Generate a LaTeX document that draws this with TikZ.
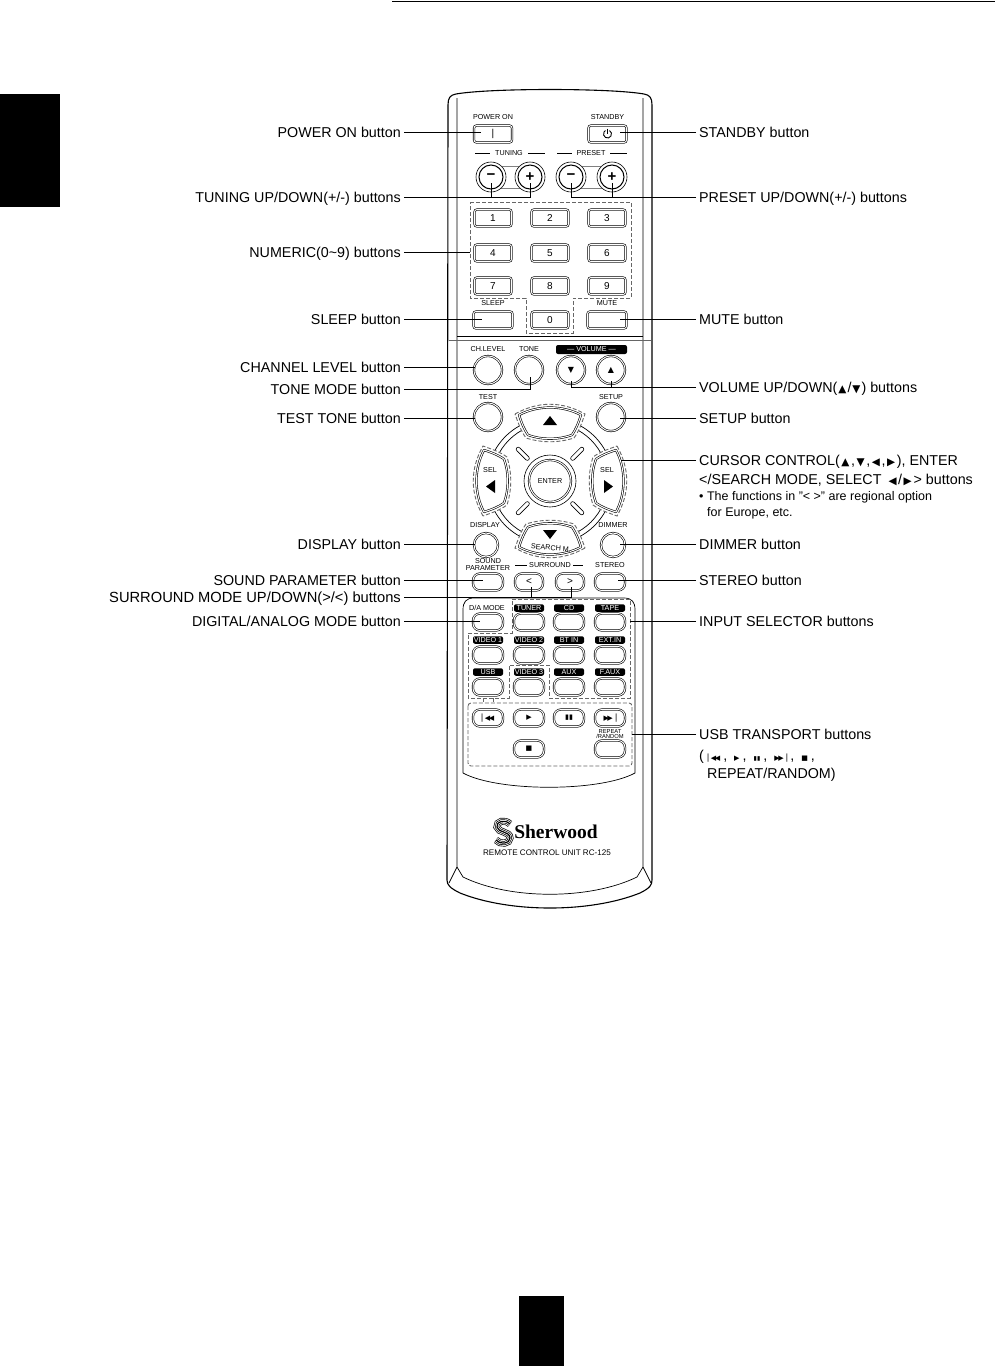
\documentclass[tikz,border=0pt]{standalone}
\usepackage{fontspec}
\setmainfont{Liberation Sans}
\newfontfamily\symfont{DejaVu Sans}
\newfontfamily\logofont{Liberation Serif}

% small glyphs used inside the labels and on the keys
\newcommand{\gup}[1][7.5]{{\symfont\fontsize{#1}{#1}\selectfont ▲}}
\newcommand{\gdn}[1][7.5]{{\symfont\fontsize{#1}{#1}\selectfont ▼}}
\newcommand{\glf}[1][7.5]{{\symfont\fontsize{#1}{#1}\selectfont ◀}}
\newcommand{\grt}[1][7.5]{{\symfont\fontsize{#1}{#1}\selectfont ▶}}
\newcommand{\gprev}[1][6]{{\symfont\fontsize{#1}{#1}\selectfont ▏\kern-.35em◀\kern-.2em◀}}
\newcommand{\gnext}[1][6]{{\symfont\fontsize{#1}{#1}\selectfont ▶\kern-.2em▶\kern-.25em▕}}
\newcommand{\gpause}[1][6]{{\symfont\fontsize{#1}{#1}\selectfont ▮\kern.02em▮}}
\newcommand{\gstop}[1][6]{{\symfont\fontsize{#1}{#1}\selectfont ■}}

% the four-way key, drawn pointing up around (0,0)
\newcommand{\keyshape}{(-31,-66) .. controls (-12,-76) and (12,-76) .. (31,-66) .. controls (28,-57) and (26,-52) .. (22,-46) .. controls (8,-41) and (-8,-41) .. (-22,-46) .. controls (-26,-52) and (-28,-57) .. (-31,-66) -- cycle}
\newcommand{\keyhalo}{(-35,-67) .. controls (-12,-80) and (12,-80) .. (35,-67) .. controls (31,-56) and (29,-50) .. (24,-43) .. controls (8,-38) and (-8,-38) .. (-24,-43) .. controls (-29,-50) and (-31,-56) .. (-35,-67) -- cycle}
\newcommand{\logopath}{(510,824) .. controls (505,819) and (496,821) .. (497,827) .. controls (498,833) and (510,831) .. (510,838) .. controls (510,844) and (500,845) .. (496,840)}

\tikzset{
    lblL/.style={anchor=east,inner sep=0pt,text height=13.6pt,text depth=3pt,font=\fontsize{14.3}{16}\selectfont},
    lblR/.style={anchor=west,inner sep=0pt,text height=13.6pt,text depth=3pt,font=\fontsize{14.3}{16}\selectfont},
    noteR/.style={anchor=west,inner sep=0pt,font=\fontsize{12.5}{13}\selectfont},
    leader/.style={line width=.8pt,shorten <=3pt},
    keytxt/.style={inner sep=0pt,font=\fontsize{7.2}{8}\selectfont},
    tagtxt/.style={keytxt,fill=black,text=white,rounded corners=2pt,minimum width=30pt,minimum height=7.5pt},
    rectkey/.style={draw,double,double distance=1pt,line width=.6pt,rounded corners=2.5pt,minimum width=37pt,minimum height=17pt,inner sep=0pt,font=\fontsize{10}{10}\selectfont},
    pillkey/.style={draw,double,double distance=1pt,line width=.6pt,rounded corners=7pt,minimum width=30pt,minimum height=17pt,inner sep=0pt,font=\fontsize{9}{9}\selectfont},
    roundkey/.style={circle,draw,double,double distance=1pt,line width=.6pt,minimum size=28pt,inner sep=0pt},
    zone/.style={draw=black!60,line width=.9pt,dash pattern=on 4pt off 2pt},
    shell/.style={line width=1.1pt,line join=round}
}

\begin{document}
\begin{tikzpicture}[x=1pt,y=-1pt]
\useasboundingbox (0,0) rectangle (995,1366);

% ===== Page marks =====
\draw[line width=1pt] (392,1) -- (995,1);
\fill (0,94) rectangle (60,207);
\fill (519,1296) rectangle (564,1366);

% ===== Remote shell =====
\draw[shell] (448,105) .. controls (448,98) and (450,95) .. (456,94) .. controls (490,88) and (610,88) .. (644,94) .. controls (650,95) and (652,98) .. (652,105) -- (652,880) .. controls (652,885) and (650,888) .. (640,893) .. controls (590,913) and (510,913) .. (460,893) .. controls (450,888) and (447,885) .. (447,880) -- cycle;
\draw[line width=.7pt] (457,98) -- (457,867) -- (449,883);
\draw[line width=.7pt] (643,98) -- (643,867) -- (651,883);
\draw[line width=.7pt] (457,867) -- (463,877) .. controls (510,900) and (590,900) .. (637,877) -- (643,867);
\draw[line width=.7pt] (457,336) -- (643,336);
\draw[line width=.7pt,black!60] (449,340) -- (651,340);
\draw[line width=.7pt] (463,773) -- (463,610) .. controls (463,602) and (466,598) .. (474,598) -- (624,598) .. controls (632,598) and (635,602) .. (635,610) -- (635,773) .. controls (600,792) and (498,792) .. (463,773);

% ===== Dashed zones =====
\draw[zone] (470,202) -- (631,202) -- (631,298) -- (573,298) -- (573,333) -- (526,333) -- (526,298) -- (470,298) -- cycle;
\draw[zone] (630,599) -- (512,599) -- (512,633) -- (468,633) -- (468,698) -- (509,698) -- (509,665) -- (549,665) -- (549,698) -- (630,698) -- cycle;
\draw[zone,rounded corners=3pt] (468,703) rectangle (632,766);
\draw[zone] (483,698) -- (483,703);
\draw[zone] (493,698) -- (493,703);

% ===== Top row =====
\node[rectkey,minimum width=38pt] (btnPower) at (493,134) {|};
\node[rectkey,minimum width=38pt] (btnStandby) at (607.5,134) {};
\draw[line width=.9pt] (btnStandby.center) ++(-60:4) arc (-60:240:4);
\draw[line width=.9pt] (btnStandby.center) ++(0,-5.5) -- ++(0,5);
\node[keytxt] (capPower) at (493,117) {POWER ON};
\node[keytxt] (capStandby) at (607.5,117) {STANDBY};

% ===== Tuning and preset =====
\draw[black!50,line width=.7pt] (491,166) -- (530,166) (491,188) -- (530,188);
\draw[black!50,line width=.7pt] (571,166) -- (612,166) (571,188) -- (612,188);
\foreach \nm/\x/\sgn in {TuneMinus/491/−,TunePlus/530/+,PresetMinus/571/−,PresetPlus/612/+} {
    \node[circle,draw,line width=.6pt,fill=white,minimum size=30pt,inner sep=0pt] (btn\nm) at (\x,177) {};
    \node[circle,draw,line width=1pt,minimum size=24pt,inner sep=0pt,font=\bfseries\fontsize{15}{15}\selectfont] at (\x,177) {\sgn};
}
\node[keytxt] (capTuning) at (509,153) {TUNING};
\node[keytxt] (capPreset) at (591,153) {PRESET};
\draw[line width=.6pt] (475,153) -- (490,153) (528,153) -- (545,153);
\draw[line width=.6pt] (557,153) -- (572,153) (610,153) -- (627,153);

% ===== Numeric keys =====
\foreach \n/\x/\y in {1/493/218,2/550/218,3/607/218,4/493/253,5/550/253,6/607/253,7/493/286,8/550/286,9/607/286,0/550/320} {
    \node[rectkey] (btnNum\n) at (\x,\y) {\n};
}
\node[rectkey,minimum width=39pt] (btnSleep) at (493,320) {};
\node[rectkey,minimum width=39pt] (btnMute) at (607,320) {};
\node[keytxt] (capSleep) at (493,303) {SLEEP};
\node[keytxt] (capMute) at (607,303) {MUTE};

% ===== Tone and volume =====
\foreach \nm/\x/\y in {Level/488/370,Tone/529/370,VolDown/571/370,VolUp/611/370,Test/488/417,Setup/611/417} {
    \node[roundkey] (btn\nm) at (\x,\y) {};
}
\node[inner sep=0pt] at (btnVolDown) {\gdn[8]};
\node[inner sep=0pt] at (btnVolUp) {\gup[8]};
\node[keytxt] (capLevel) at (488,349) {CH.LEVEL};
\node[keytxt] (capTone) at (529,349) {TONE};
\node[keytxt] (capTest) at (488,397) {TEST};
\node[keytxt] (capSetup) at (611,397) {SETUP};
\node[tagtxt,minimum width=71pt,minimum height=9pt] (capVolume) at (591.5,349.5) {--- VOLUME ---};

% ===== Cursor pad =====
\draw[line width=.7pt] (550,481) circle (63);
\draw[line width=.7pt] (550,481) circle (58);
\foreach \ang in {45,135,225,315} {
    \draw[line width=.6pt,rounded corners=2pt,rotate around={\ang:(550,481)}] (580,479) rectangle (597,483);
}
\node[circle,draw,line width=.6pt,minimum size=52pt,inner sep=0pt] (padRing) at (550,481) {};
\node[circle,draw,double,double distance=1pt,line width=.6pt,minimum size=42pt,inner sep=0pt,font=\fontsize{7.2}{8}\selectfont] (btnEnter) at (550,481) {ENTER};
\foreach \ang in {0,90,180,270} {
    \begin{scope}[shift={(550,481)},rotate=\ang]
        \draw[zone,fill=white] \keyhalo;
        \draw[double,double distance=1pt,line width=.6pt,line join=round,fill=white] \keyshape;
    \end{scope}
}
\fill (550,416) -- (557,425) -- (543,425) -- cycle;
\fill (486,486.5) -- (495,480) -- (495,493) -- cycle;
\fill (613,486.5) -- (604,480) -- (604,493) -- cycle;
\fill (550,539) -- (557,530) -- (543,530) -- cycle;
\node[keytxt] (capSelL) at (490,470) {SEL};
\node[keytxt] (capSelR) at (607,470) {SEL};
\node[keytxt,rotate=-5] (capSearch) at (551,548) {SEARCH M.};

% ===== Display row =====
\node[roundkey,minimum size=24pt] (btnDisplay) at (486,545) {};
\node[roundkey,minimum size=24pt] (btnDimmer) at (613,545) {};
\node[keytxt,fill=white,inner sep=.5pt] (capDisplay) at (485,525) {DISPLAY};
\node[keytxt,fill=white,inner sep=.5pt] (capDimmer) at (613,525) {DIMMER};

% ===== Sound and surround =====
\node[pillkey] (btnSound) at (488,582) {};
\node[pillkey,minimum width=28pt,font=\fontsize{10}{10}\selectfont] (btnSurLess) at (529,582) {<};
\node[pillkey,minimum width=28pt,font=\fontsize{10}{10}\selectfont] (btnSurMore) at (570,582) {>};
\node[pillkey] (btnStereo) at (610,582) {};
\node[keytxt] (capSoundA) at (488,561) {SOUND};
\node[keytxt] (capSoundB) at (488,568) {PARAMETER};
\node[keytxt] (capSurround) at (550,565) {SURROUND};
\node[keytxt] (capStereo) at (610,565) {STEREO};
\draw[line width=.6pt] (515,565) -- (527,565) (573,565) -- (583,565);

% ===== Input keys =====
\node[keytxt] (capDA) at (487,608) {D/A MODE};
\node[pillkey] (btnDA) at (488,622) {};
\foreach \nm/\txt/\x/\ylab/\ykey in {Tuner/TUNER/529/608/622,Cd/CD/569/608/622,Tape/TAPE/610/608/622,VidA/VIDEO 1/488/640/655,VidB/VIDEO 2/529/640/655,Bt/BT IN/569/640/655,Ext/EXT.IN/610/640/655,Usb/USB/488/672/687,VidC/VIDEO 3/529/672/687,Aux/AUX/569/672/687,Faux/F.AUX/610/672/687} {
    \node[tagtxt] (cap\nm) at (\x,\ylab) {\txt};
    \node[pillkey] (btn\nm) at (\x,\ykey) {};
}

% ===== USB transport =====
\node[pillkey] (btnPrev) at (488,718) {\gprev[7]};
\node[pillkey] (btnPlay) at (529,718) {\grt[7]};
\node[pillkey] (btnPause) at (569,718) {\gpause[7]};
\node[pillkey] (btnNext) at (610,718) {\gnext[7]};
\node[pillkey] (btnStop) at (529,749) {\gstop[7]};
\node[pillkey] (btnRepeat) at (610,749) {};
\node[keytxt,font=\fontsize{5.8}{6}\selectfont] (capRepeatA) at (610,731) {REPEAT};
\node[keytxt,font=\fontsize{5.8}{6}\selectfont] (capRepeatB) at (610,736) {/RANDOM};

% ===== Brand =====
\draw[line width=7pt] \logopath;
\draw[line width=5.6pt,white] \logopath;
\draw[line width=4pt] \logopath;
\draw[line width=2.6pt,white] \logopath;
\draw[line width=1.2pt] \logopath;
\node[inner sep=0pt,font=\logofont\bfseries\fontsize{19.5}{20}\selectfont] (logoName) at (556,832) {Sherwood};
\node[inner sep=0pt,font=\fontsize{8.1}{8}\selectfont] (logoUnit) at (547,853) {REMOTE CONTROL UNIT RC-125};

% ===== Left labels =====
\node[lblL] (lblPower) at (401,132.5) {POWER ON button};
\node[lblL] (lblTuning) at (401,197.5) {TUNING UP/DOWN(+/-) buttons};
\node[lblL] (lblNumeric) at (401,252.5) {NUMERIC(0\textasciitilde 9) buttons};
\node[lblL] (lblSleep) at (401,319) {SLEEP button};
\node[lblL] (lblLevel) at (401,367) {CHANNEL LEVEL button};
\node[lblL] (lblTone) at (401,389.5) {TONE MODE button};
\node[lblL] (lblTest) at (401,418) {TEST TONE button};
\node[lblL] (lblDisplay) at (401,544) {DISPLAY button};
\node[lblL] (lblSound) at (401,580) {SOUND PARAMETER button};
\node[lblL,font=\fontsize{14.7}{16}\selectfont] (lblSurround) at (401,597) {SURROUND MODE UP/DOWN(>/<) buttons};
\node[lblL] (lblDA) at (401,621) {DIGITAL/ANALOG MODE button};

% ===== Right labels =====
\node[lblR] (lblStandby) at (699,132.5) {STANDBY button};
\node[lblR] (lblPreset) at (699,197.5) {PRESET UP/DOWN(+/-) buttons};
\node[lblR] (lblMute) at (699,319) {MUTE button};
\node[lblR] (lblVolume) at (699,387.5) {VOLUME UP/DOWN(\kern1pt\gup[10.5]\kern1pt/\kern1pt\gdn[10.5]\kern1pt) buttons};
\node[lblR] (lblSetup) at (699,418) {SETUP button};
\node[lblR] (lblCursor) at (699,460.5) {CURSOR CONTROL(\kern1.6pt\gup[10.5]\kern1.6pt,\kern1.6pt\gdn[10.5]\kern1.6pt,\kern1.6pt\glf[10.5]\kern1.6pt,\kern1.6pt\grt[10.5]\kern1.6pt), ENTER};
\node[lblR] (lblCursorB) at (699,479.5) {</SEARCH MODE, SELECT \kern3pt\glf[10.5]\kern1.5pt/\kern1.5pt\grt[10.5]\kern2pt> buttons};
\node[noteR] (noteA) at (699,497) {• The functions in "< >" are regional option};
\node[noteR] (noteB) at (707,513) {for Europe, etc.};
\node[lblR] (lblDimmer) at (699,544) {DIMMER button};
\node[lblR] (lblStereo) at (699,580) {STEREO button};
\node[lblR] (lblInput) at (699,621) {INPUT SELECTOR buttons};
\node[lblR] (lblUsb) at (699,734) {USB TRANSPORT buttons};
\node[lblR] (lblUsbB) at (699,755) {(\kern4pt\gprev[7]\kern3pt,\kern7pt\grt[7]\kern3pt,\kern7pt\gpause[6]\kern3pt,\kern7pt\gnext[7]\kern3pt,\kern7pt\gstop[7]\kern3pt,};
\node[lblR] (lblUsbC) at (707,773) {REPEAT/RANDOM)};

% ===== Connector ends =====
\coordinate (tipPower) at (481,132.5);
\coordinate (tipTuneA) at (491,183);
\coordinate (tipTuneB) at (530,183);
\coordinate (tipPresetA) at (571,183);
\coordinate (tipPresetB) at (612,183);
\coordinate (tipNumeric) at (470,252.5);
\coordinate (tipSleep) at (482,319);
\coordinate (tipLevel) at (475,367);
\coordinate (tipTone) at (530,377);
\coordinate (tipTest) at (475,418);
\coordinate (tipDisplay) at (475,544);
\coordinate (tipSound) at (483,580);
\coordinate (tipSurA) at (531,587);
\coordinate (tipSurB) at (571,587);
\coordinate (tipDA) at (480,621);
\coordinate (tipStandby) at (620,132.5);
\coordinate (tipMute) at (620,319);
\coordinate (tipVolA) at (571,381);
\coordinate (tipVolB) at (611,381);
\coordinate (tipSetup) at (620,418);
\coordinate (tipCursor) at (621,460.5);
\coordinate (tipDimmer) at (620,544);
\coordinate (tipStereo) at (618,580);
\coordinate (tipInput) at (630,621);
\coordinate (tipUsb) at (632,734);

% ===== Connectors =====
\foreach \a/\b in {lblPower/tipPower,lblNumeric/tipNumeric,lblSleep/tipSleep,lblLevel/tipLevel,lblTest/tipTest,lblDisplay/tipDisplay,lblSound/tipSound,lblDA/tipDA} {
    \draw[leader] (\a.east) -- (\b);
}
\foreach \a/\b in {lblStandby/tipStandby,lblMute/tipMute,lblSetup/tipSetup,lblCursor/tipCursor,lblDimmer/tipDimmer,lblStereo/tipStereo,lblInput/tipInput,lblUsb/tipUsb} {
    \draw[leader] (\a.west) -- (\b);
}
\draw[leader] (lblTuning.east) -| (tipTuneB);
\draw[line width=.8pt] (lblTuning.east -| tipTuneA) -- (tipTuneA);
\draw[leader] (lblPreset.west) -| (tipPresetA);
\draw[line width=.8pt] (lblPreset.west -| tipPresetB) -- (tipPresetB);
\draw[leader] (lblTone.east) -| (tipTone);
\draw[leader] (lblSurround.east) -| (tipSurB);
\draw[line width=.8pt] (lblSurround.east -| tipSurA) -- (tipSurA);
\draw[leader] (lblVolume.west) -| (tipVolA);
\draw[line width=.8pt] (lblVolume.west -| tipVolB) -- (tipVolB);

\end{tikzpicture}
\end{document}
